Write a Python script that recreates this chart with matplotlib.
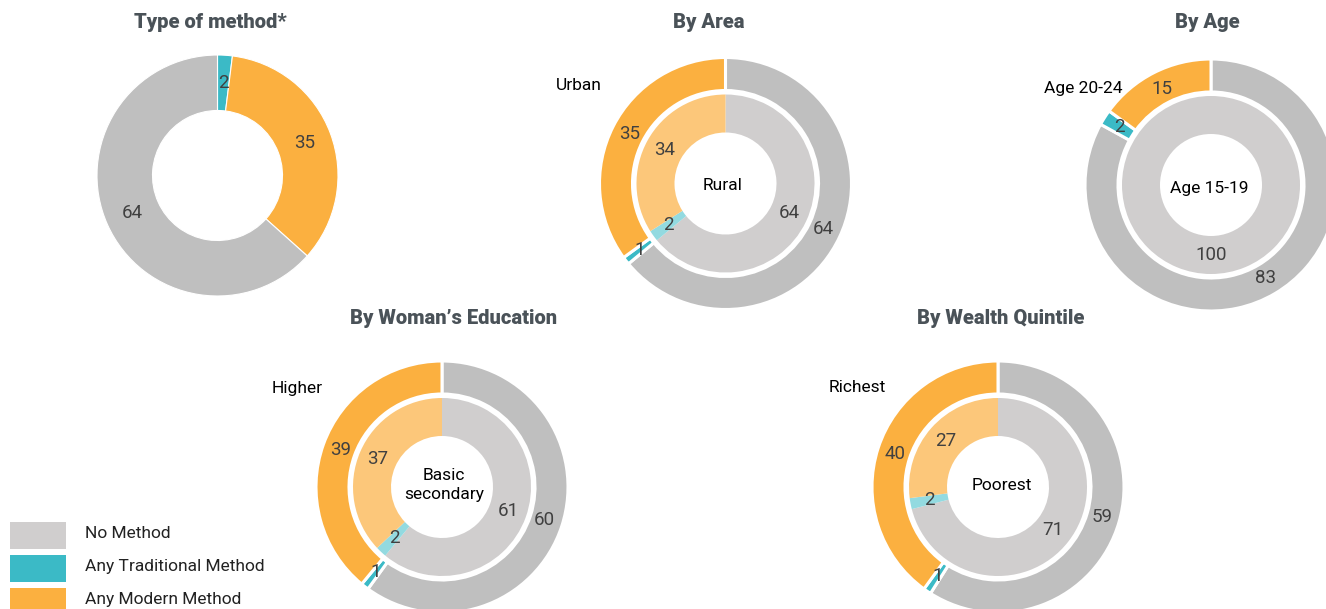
import matplotlib
matplotlib.use("Agg")
import matplotlib.pyplot as plt
import numpy as np
from matplotlib.patches import Rectangle

# ---------------- data ----------------
categories = ["No Method", "Any Traditional Method", "Any Modern Method"]

type_of_method = [64, 2, 35]

area_urban = [64, 1, 35]
area_rural = [64, 2, 34]

age_20_24 = [83, 2, 15]
age_15_19 = [100, 0, 0]

edu_higher = [60, 1, 39]
edu_basic_secondary = [61, 2, 37]

wealth_richest = [59, 1, 40]
wealth_poorest = [71, 2, 27]

titles = ["Type of method*", "By Area", "By Age", "By Woman\u2019s Education", "By Wealth Quintile"]
outer_names = ["", "Urban", "Age 20-24", "Higher", "Richest"]
inner_names = ["", "Rural", "Age 15-19", "Basic\nsecondary", "Poorest"]

# ---------------- style ----------------
W, H = 1326, 609
outer_colors = ["#BFBFBF", "#3BBAC6", "#FBB040"]
inner_colors = ["#D0CECE", "#93DAE0", "#FCC77A"]
legend_colors = ["#D0CECE", "#3BBAC6", "#FBB040"]
title_color = "#4A5258"
value_color = "#404040"
FONT = ["Roboto", "DejaVu Sans"]

fig = plt.figure(figsize=(W / 100, H / 100), dpi=100)
ax = fig.add_axes([0, 0, 1, 1])


def Y(py):
    return H - py


def draw_ring(values, colors, cx, cy, r, width, order, lab_r, lw=2.0):
    vals = [values[i] for i in order]
    cols = [colors[i] for i in order]
    wedges, _ = ax.pie(vals, colors=cols, center=(cx, Y(cy)), radius=r,
                       startangle=90, counterclock=False,
                       wedgeprops=dict(width=width, edgecolor="white", linewidth=lw))
    for w, v in zip(wedges, vals):
        if v <= 0:
            continue
        th = np.deg2rad((w.theta1 + w.theta2) / 2)
        ax.text(cx + lab_r * np.cos(th), Y(cy) + lab_r * np.sin(th), str(v),
                ha="center", va="center", fontsize=13.5, color=value_color,
                family=FONT)


# Chart 1: Type of method
draw_ring(type_of_method, outer_colors, 217.5, 175.5, 120.5, 55.5, [1, 2, 0], 93, lw=0.8)

# Two-ring charts: (outer values, inner values, cx, cy)
two_ring = [
    (area_urban, area_rural, 725.5, 183.5),
    (age_20_24, age_15_19, 1211, 185),
    (edu_higher, edu_basic_secondary, 442, 487),
    (wealth_richest, wealth_poorest, 998, 487),
]
for outer, inner, cx, cy in two_ring:
    draw_ring(outer, outer_colors, cx, cy, 126, 33, [0, 1, 2], 108, lw=2.2)
    draw_ring(inner, inner_colors, cx, cy, 89, 38, [0, 1, 2], 70, lw=0)

# ---------------- titles ----------------
title_pos = [(210, 22), (709, 22), (1207, 22), (454, 318), (1001, 318)]
for t, (px, py) in zip(titles, title_pos):
    ax.text(px, Y(py), t, ha="center", va="center", fontsize=14.5,
            fontweight=900, color=title_color, family=FONT)

# ring names
outer_name_pos = [None, (579, 85), (1083, 88), (297, 388), (857, 388)]
for name, pos in zip(outer_names, outer_name_pos):
    if pos is None:
        continue
    ax.text(pos[0], Y(pos[1]), name, ha="center", va="center", fontsize=12.5,
            color="black", family=FONT)

inner_name_pos = [None, (723, 186), (1209, 188), (444, 485), (1002, 486)]
for name, pos in zip(inner_names, inner_name_pos):
    if pos is None:
        continue
    ax.text(pos[0], Y(pos[1]), name, ha="center", va="center", fontsize=12.5,
            color="black", family=FONT, linespacing=1.4)

# ---------------- legend ----------------
leg_y = [535.5, 568.5, 601.5]
for cat, col, ly in zip(categories, legend_colors, leg_y):
    ax.add_patch(Rectangle((10, Y(ly) - 13.5), 56, 27, facecolor=col, edgecolor="none"))
    ax.text(85, Y(ly - 2), cat, ha="left", va="center", fontsize=12.5,
            color="#222222", family=FONT)

ax.set_xlim(0, W)
ax.set_ylim(0, H)
ax.set_aspect("equal")
ax.axis("off")

fig.savefig("out.png", dpi=100, facecolor="white")
